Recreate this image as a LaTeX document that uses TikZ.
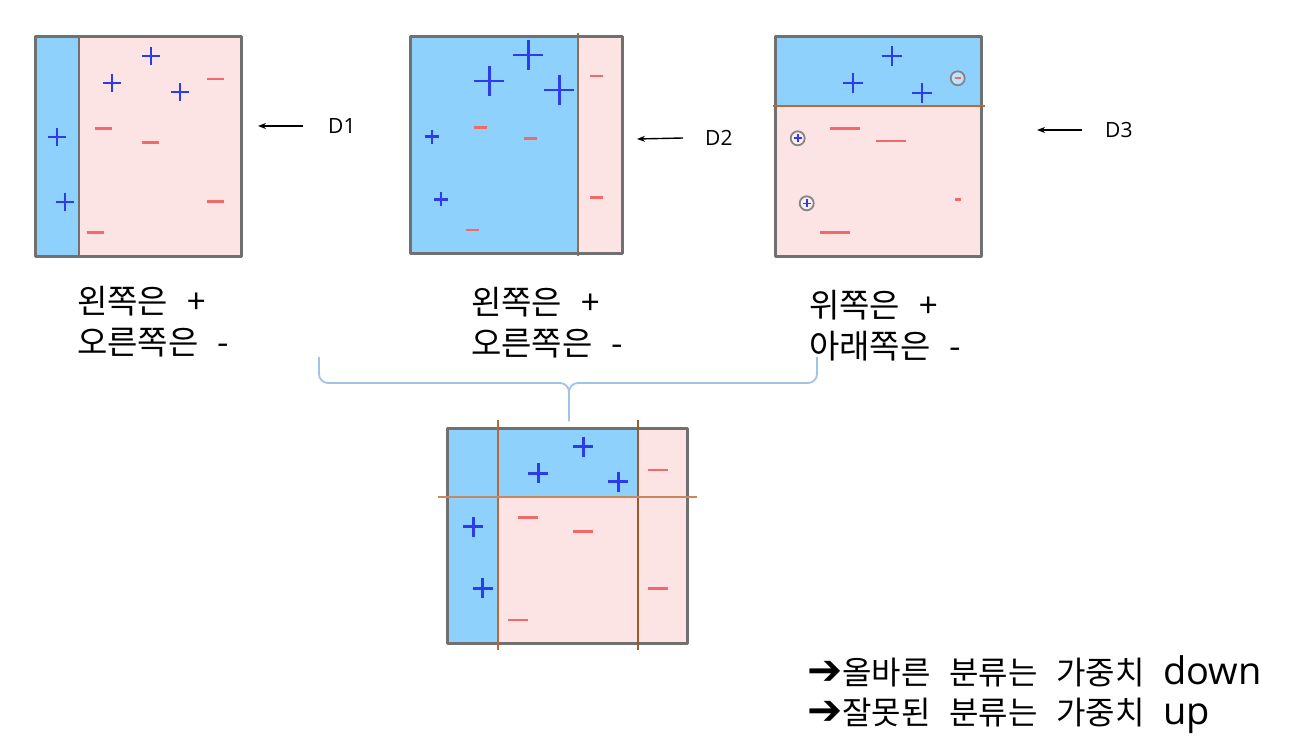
\documentclass[tikz,border=0pt]{standalone}
\usepackage{fontspec}
\setmainfont{Noto Sans CJK KR}[WordSpace=2.6]
\newfontfamily\latinfont{Open Sans}
\newfontfamily\symfont{DejaVu Sans}
\usetikzlibrary{positioning,arrows.meta}
\definecolor{regblue}{RGB}{142,209,252}
\definecolor{regpink}{RGB}{253,228,228}
\definecolor{framegray}{RGB}{112,112,112}
\definecolor{plusblue}{RGB}{45,60,235}
\definecolor{minusred}{RGB}{242,105,105}
\definecolor{cutbrown}{RGB}{185,105,55}
\definecolor{bracecol}{RGB}{160,196,230}
\begin{document}
\begin{tikzpicture}[x=1pt, y=-1pt, line join=round, >={Stealth[length=8pt,width=6pt]}]
	\tikzset{frame/.style={draw=framegray, line width=3pt},
		cut/.style={draw=cutbrown, line width=2pt},
		pl/.style={draw=plusblue, line width=2.2pt},
		mn/.style={draw=minusred, line width=2.7pt},
		ring/.style={draw=framegray!85, line width=1.8pt, fill=white, fill opacity=.4},
		kor/.style={font=\fontsize{33}{41}\selectfont, align=left, inner sep=0pt, anchor=north west},
		dlabel/.style={font=\latinfont\fontsize{21}{24}\selectfont, inner sep=0pt, anchor=west},
		arr/.style={->, line width=1.4pt}}
	\useasboundingbox (0,0) rectangle (1292,746);
	% D1
	\fill[regpink] (35,37) rectangle (241,256);
	\fill[regblue] (35,37) rectangle (79,256);
	\draw[framegray, line width=1.8pt] (79,37)--(79,256);
	\draw[frame] (35,37) rectangle (241,256);
	\foreach \x/\y in {150.7/56, 111.7/82.7, 180/92.3, 56.7/137.3, 65/201.7}
	\draw[pl] (\x-9,\y)--(\x+9,\y) (\x,\y-9)--(\x,\y+9);
	\foreach \x/\y in {215/79, 103.3/128.7, 150.7/142.3, 215/201.7, 95/232.7}
	\draw[mn] (\x-8.5,\y)--(\x+8.5,\y);
	% D2
	\fill[regblue] (410,37) rectangle (578,253);
	\fill[regpink] (578,37) rectangle (622,253);
	\draw[cut, draw=cutbrown!45!framegray, line width=1.5pt] (578,33)--(578,256);
	\draw[frame] (410,37) rectangle (622,253);
	\foreach \x/\y/\s in {528.3/55/15, 489.3/81/15, 559.3/90/15, 431.7/136.7/7, 440.7/199.3/7}
	\draw[pl, line width=2.4pt] (\x-\s,\y)--(\x+\s,\y) (\x,\y-\s)--(\x,\y+\s);
	\foreach \x/\y in {596.7/76, 480/127.3, 530/138.7, 596.7/197.7, 472.7/230}
	\draw[mn] (\x-6.5,\y)--(\x+6.5,\y);
	% D3
	\fill[regblue] (775,37) rectangle (981,106);
	\fill[regpink] (775,106) rectangle (981,256);
	\draw[frame] (775,37) rectangle (981,256);
	\draw[cut, line width=1.6pt] (773,106)--(985,106);
	\foreach \x/\y in {891.7/56, 852.7/83.3, 922.3/93.3}
	\draw[pl] (\x-10,\y)--(\x+10,\y) (\x,\y-10)--(\x,\y+10);
	\foreach \x/\y/\s in {845/128.7/15, 890.7/141/15, 957.7/199.3/3, 835/232.3/15}
	\draw[mn] (\x-\s,\y)--(\x+\s,\y);
	\draw[ring] (957.7,78.3) circle (7pt);
	\draw[minusred, line width=1.8pt] (954.5,78.3)--(960.9,78.3);
	\foreach \x/\y in {797.7/138.3, 806.7/203.3}{
		\draw[ring] (\x,\y) circle (7pt);
		\draw[plusblue, line width=1.6pt] (\x-4,\y)--(\x+4,\y) (\x,\y-4)--(\x,\y+4);
	}
	% arrows and names
	\node[dlabel] (dOne) at (328,126) {D1};
	\node[dlabel] (dTwo) at (705,138) {D2};
	\node[dlabel] (dThree) at (1105,130) {D3};
	\coordinate (eOne) at (258,126);
	\coordinate (eTwo) at (637,139);
	\coordinate (eThree) at (1037,130);
	\draw[arr] ([xshift=-25pt]dOne.west) -- (eOne);
	\draw[arr] ([xshift=-22pt]dTwo.west) -- (eTwo);
	\draw[arr] ([xshift=-23pt]dThree.west) -- (eThree);
	% rules under the boxes
	\node[kor] (ruleOne) at (77,286) {왼쪽은 +\\오른쪽은 -};
	\node[kor] (ruleTwo) at (471,287) {왼쪽은 +\\오른쪽은 -};
	\node[kor] (ruleThree) at (809,290) {위쪽은 +\\아래쪽은 -};
	% brace
	\draw[bracecol, line width=1.8pt, rounded corners=9pt] (319,357)--(319,383)--(569,383)--(569,421);
	\draw[bracecol, line width=1.8pt, rounded corners=9pt] (817,357)--(817,383)--(569,383)--(569,421);
	% combined
	\fill[regpink] (447,428) rectangle (687,643);
	\fill[regblue] (447,428) rectangle (498,643);
	\fill[regblue] (498,428) rectangle (638,497);
	\draw[frame] (447,428) rectangle (687,643);
	\draw[cut] (498,420)--(498,650);
	\draw[cut, draw=cutbrown!85!black, line width=2.4pt] (638,420)--(638,650);
	\draw[cut, draw=cutbrown!80, line width=2.6pt] (438,497)--(697,497);
	\foreach \x/\y in {583.3/446.7, 538.3/473.3, 618.3/481.7, 473.3/526.7, 482.7/588.3}
	\draw[pl, line width=2.5pt] (\x-10,\y)--(\x+10,\y) (\x,\y-10)--(\x,\y+10);
	\foreach \x/\y in {658.3/470, 528.3/517.3, 583.3/531.7, 658.3/588.3, 518.3/620}
	\draw[mn] (\x-10,\y)--(\x+10,\y);
	% result
	\node[kor, font=\fontsize{32}{40}\selectfont] (result) at (807,655)
	{{\symfont\fontsize{42}{40}\selectfont ➔}올바른 분류는 가중치 {\latinfont\fontsize{38}{40}\selectfont down}\\{\symfont\fontsize{42}{40}\selectfont ➔}잘못된 분류는 가중치 {\latinfont\fontsize{38}{40}\selectfont up}};
\end{tikzpicture}
\end{document}
